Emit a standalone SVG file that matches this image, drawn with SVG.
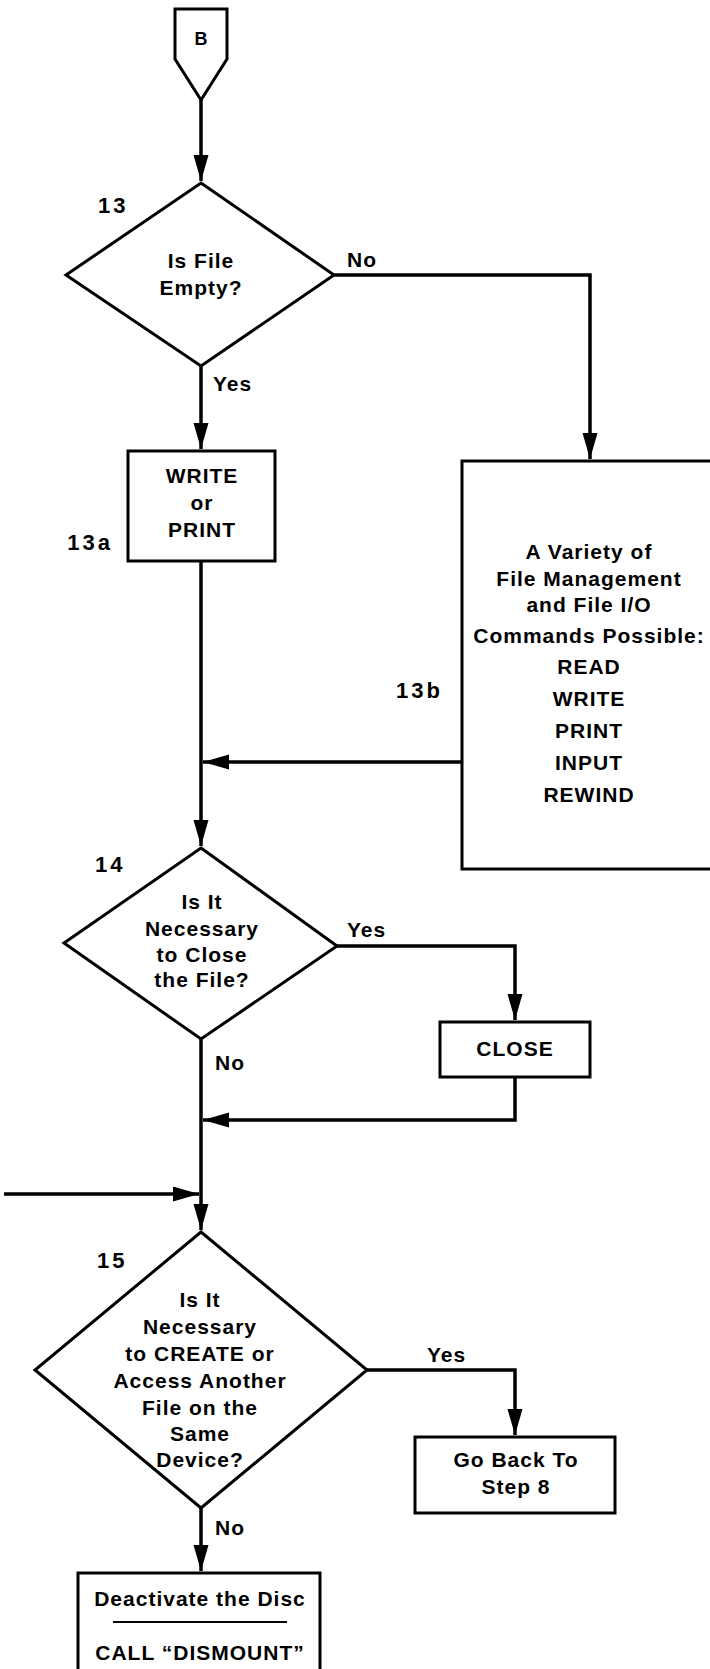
<svg xmlns="http://www.w3.org/2000/svg" width="710" height="1669" viewBox="0 0 710 1669">
<defs>
<marker id="ah" markerUnits="userSpaceOnUse" markerWidth="28" markerHeight="16" refX="26" refY="7.5" orient="auto">
<path d="M0,0 L26,7.5 L0,15 Z" fill="#000"/>
</marker>
<style>
.shape{fill:#fff;stroke:#000;stroke-width:3;stroke-linejoin:miter}
.conn{fill:none;stroke:#000;stroke-width:3.5}
.t{font-family:"Liberation Sans",Arial,sans-serif;font-weight:bold;font-size:21px;letter-spacing:1px;text-anchor:middle;fill:#000}
.n{font-family:"Liberation Sans",Arial,sans-serif;font-weight:bold;font-size:22px;letter-spacing:3px;fill:#000}
</style>
</defs>
<rect width="710" height="1669" fill="#fff"/>
<g id="connectors">
<path class="conn" d="M201,100 V181" marker-end="url(#ah)"/>
<path class="conn" d="M334,275 H590 V459" marker-end="url(#ah)"/>
<path class="conn" d="M201,366 V449" marker-end="url(#ah)"/>
<path class="conn" d="M201,561 V846" marker-end="url(#ah)"/>
<path class="conn" d="M462,762 H203" marker-end="url(#ah)"/>
<path class="conn" d="M337,946 H515 V1020" marker-end="url(#ah)"/>
<path class="conn" d="M201,1039 V1230" marker-end="url(#ah)"/>
<path class="conn" d="M515,1077 V1120 H203" marker-end="url(#ah)"/>
<path class="conn" d="M4,1194 H199" marker-end="url(#ah)"/>
<path class="conn" d="M367,1370 H515 V1435" marker-end="url(#ah)"/>
<path class="conn" d="M201,1508 V1571" marker-end="url(#ah)"/>
</g>
<g id="node-B">
<path class="shape" d="M175,9 H227 V59 L201,100 L175,59 Z"/>
<text class="t" x="201" y="45" style="font-size:18px;letter-spacing:0">B</text>
</g>
<g id="node-13">
<path class="shape" d="M201,183 L334,275 L201,366 L66,275 Z"/>
<text class="n" x="98" y="213">13</text>
<text class="t" x="201" y="268">Is File</text>
<text class="t" x="201" y="295">Empty?</text>
<text class="t" x="347" y="267" style="text-anchor:start">No</text>
<text class="t" x="213" y="391" style="text-anchor:start">Yes</text>
</g>
<g id="node-13a">
<rect class="shape" x="128" y="451" width="147" height="110"/>
<text class="t" x="202" y="483">WRITE</text>
<text class="t" x="202" y="510">or</text>
<text class="t" x="202" y="537">PRINT</text>
<text class="n" x="113" y="550" style="text-anchor:end">13a</text>
</g>
<g id="node-13b">
<rect class="shape" x="462" y="461" width="256" height="408"/>
<text class="t" x="589" y="559">A Variety of</text>
<text class="t" x="589" y="586">File Management</text>
<text class="t" x="589" y="612">and File I/O</text>
<text class="t" x="589" y="643">Commands Possible:</text>
<text class="t" x="589" y="674">READ</text>
<text class="t" x="589" y="706">WRITE</text>
<text class="t" x="589" y="738">PRINT</text>
<text class="t" x="589" y="770">INPUT</text>
<text class="t" x="589" y="802">REWIND</text>
<text class="n" x="443" y="698" style="text-anchor:end">13b</text>
</g>
<g id="node-14">
<path class="shape" d="M201,848 L337,946 L201,1039 L64,943 Z"/>
<text class="n" x="95" y="872">14</text>
<text class="t" x="202" y="909">Is It</text>
<text class="t" x="202" y="936">Necessary</text>
<text class="t" x="202" y="962">to Close</text>
<text class="t" x="202" y="987">the File?</text>
<text class="t" x="347" y="937" style="text-anchor:start">Yes</text>
<text class="t" x="215" y="1070" style="text-anchor:start">No</text>
</g>
<g id="node-close">
<rect class="shape" x="440" y="1022" width="150" height="55"/>
<text class="t" x="515" y="1056">CLOSE</text>
</g>
<g id="node-15">
<path class="shape" d="M201,1232 L367,1370 L201,1508 L35,1370 Z"/>
<text class="n" x="97" y="1268">15</text>
<text class="t" x="200" y="1307">Is It</text>
<text class="t" x="200" y="1334">Necessary</text>
<text class="t" x="200" y="1361">to CREATE or</text>
<text class="t" x="200" y="1388">Access Another</text>
<text class="t" x="200" y="1415">File on the</text>
<text class="t" x="200" y="1441">Same</text>
<text class="t" x="200" y="1467">Device?</text>
<text class="t" x="427" y="1362" style="text-anchor:start">Yes</text>
<text class="t" x="215" y="1535" style="text-anchor:start">No</text>
</g>
<g id="node-goback">
<rect class="shape" x="415" y="1437" width="200" height="76"/>
<text class="t" x="516" y="1467">Go Back To</text>
<text class="t" x="516" y="1494">Step 8</text>
</g>
<g id="node-dismount">
<rect class="shape" x="78" y="1573" width="242" height="110"/>
<text class="t" x="200" y="1606">Deactivate the Disc</text>
<line x1="113" y1="1622" x2="287" y2="1622" stroke="#000" stroke-width="2"/>
<text class="t" x="200" y="1660">CALL “DISMOUNT”</text>
</g>
</svg>
